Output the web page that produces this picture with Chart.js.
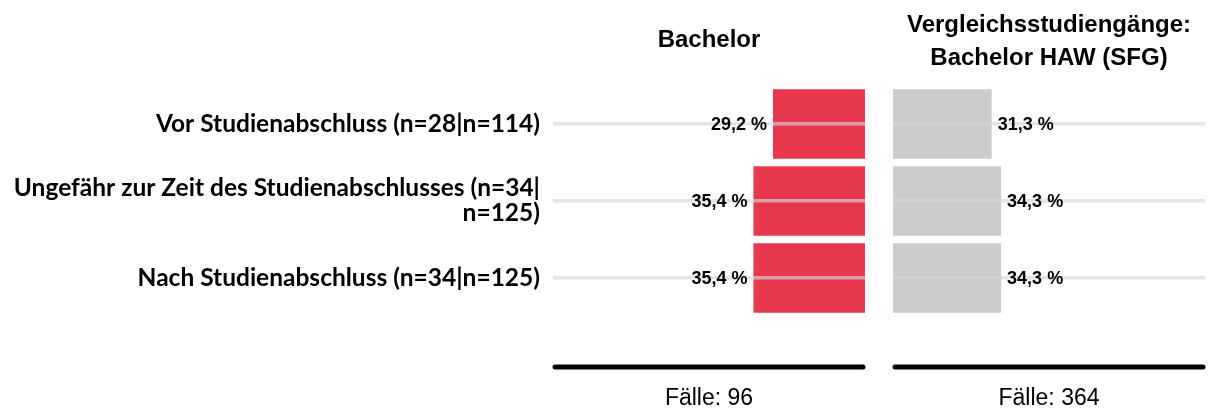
<!DOCTYPE html>
<html>
<head>
<meta charset="utf-8">
<script src="https://cdn.jsdelivr.net/npm/chart.js@4"></script>
<style>
  body { margin: 0; background: #fff; }
  #wrap { position: relative; width: 1214px; height: 414px; }
  #c1 { position: absolute; left: 0; top: 0; }
  #c2 { position: absolute; left: 880px; top: 0; }
</style>
</head>
<body>
<div id="wrap">
  <canvas id="c1" width="880" height="414"></canvas>
  <canvas id="c2" width="334" height="414"></canvas>
</div>
<script>
const categories = [
  "Vor Studienabschluss (n=28|n=114)",
  ["Ungefähr zur Zeit des Studienabschlusses (n=34|", "n=125)"],
  "Nach Studienabschluss (n=34|n=125)"
];
const bachelorValues = [29.2, 35.4, 35.4];
const sfgValues = [31.3, 34.3, 34.3];
const panelTitles = [["Bachelor"], ["Vergleichsstudiengänge:", "Bachelor HAW (SFG)"]];
const caseCounts = ["Fälle: 96", "Fälle: 364"];

const RED = "rgb(232, 56, 78)";
const GREY = "rgb(204, 204, 204)";

function fmt(v) {
  return v.toFixed(1).replace(".", ",") + " %";
}

// draws value labels, panel title and the "Fälle" footer
function panelPlugin(title, footer, side) {
  return {
    id: "panelDeco",
    afterDraw(chart) {
      const ctx = chart.ctx;
      const area = chart.chartArea;
      const cx = (area.left + area.right) / 2;
      ctx.save();

      // value labels
      ctx.font = "bold 18px 'Liberation Sans', Arial, sans-serif";
      ctx.fillStyle = "#000";
      ctx.textBaseline = "middle";
      const meta = chart.getDatasetMeta(0);
      meta.data.forEach((bar, i) => {
        const v = chart.data.datasets[0].data[i];
        if (side === "left") {
          ctx.textAlign = "right";
          ctx.fillText(fmt(v), bar.x - 6, bar.y + 1);
        } else {
          ctx.textAlign = "left";
          ctx.fillText(fmt(v), bar.x + 6, bar.y + 1);
        }
      });

      // title
      ctx.font = "bold 24px 'Liberation Sans', Arial, sans-serif";
      ctx.textAlign = "center";
      if (title.length === 1) {
        ctx.fillText(title[0], cx, 40);
      } else {
        ctx.fillText(title[0], cx, 25);
        ctx.fillText(title[1], cx, 58);
      }

      // bottom rule
      ctx.strokeStyle = "#000";
      ctx.lineWidth = 5;
      ctx.lineCap = "round";
      ctx.beginPath();
      ctx.moveTo(area.left + 2, 367);
      ctx.lineTo(area.right - 2, 367);
      ctx.stroke();

      ctx.font = "23px 'Liberation Sans', Arial, sans-serif";
      ctx.fillText(footer, cx, 399);
      ctx.restore();
    }
  };
}

function makeChart(id, values, color, side, idx) {
  const isLeft = side === "left";
  return new Chart(document.getElementById(id), {
    type: "bar",
    data: {
      labels: categories,
      datasets: [{
        data: values,
        backgroundColor: color,
        borderWidth: 0,
        categoryPercentage: 1,
        barPercentage: 0.9
      }]
    },
    options: {
      indexAxis: "y",
      responsive: false,
      animation: false,
      layout: {
        padding: isLeft
          ? { left: 0, right: 15, top: 85.5, bottom: 97.5 }
          : { left: 13, right: 9, top: 85.5, bottom: 97.5 }
      },
      plugins: {
        legend: { display: false },
        tooltip: { enabled: false }
      },
      scales: {
        x: {
          display: false,
          min: 0,
          max: 99,
          reverse: isLeft
        },
        y: {
          afterFit(scale) { scale.width = isLeft ? 553 : 0; },
          border: { display: false },
          grid: {
            offset: false,
            drawTicks: false,
            color: "rgba(215, 215, 215, 0.65)",
            lineWidth: 3.5,
            z: 1
          },
          ticks: {
            display: isLeft,
            padding: 13,
            color: "#000",
            font: { family: "Lato, 'Open Sans', sans-serif", weight: "bold", size: 24.5, lineHeight: "25px" }
          }
        }
      }
    },
    plugins: [panelPlugin(panelTitles[idx], caseCounts[idx], side)]
  });
}

makeChart("c1", bachelorValues, RED, "left", 0);
makeChart("c2", sfgValues, GREY, "right", 1);
</script>
</body>
</html>
